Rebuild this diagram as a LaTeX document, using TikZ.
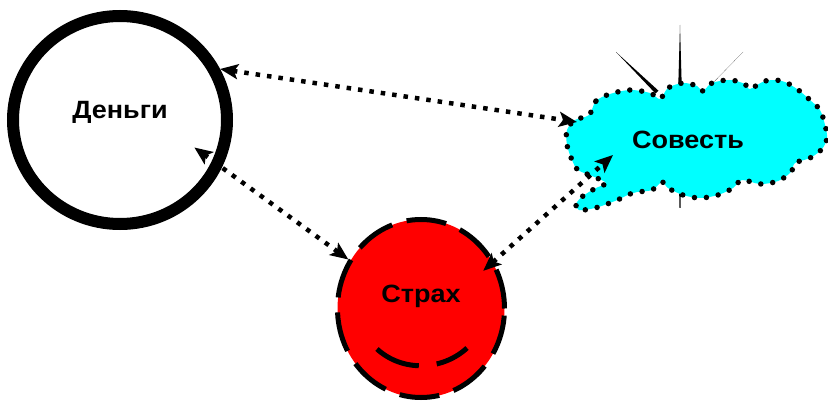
\documentclass[tikz,border=0pt]{standalone}
\usepackage{fontspec}
\setmainfont{Liberation Sans}
\usetikzlibrary{arrows.meta,shapes.geometric}
\definecolor{cloudcyan}{RGB}{0,255,255}
\definecolor{fearred}{RGB}{255,0,0}
\begin{document}
\begin{tikzpicture}[x=1pt,y=-1pt,
  lbl/.style={font=\bfseries\fontsize{25}{28}\selectfont, inner sep=0pt},
  conn/.style={line width=4.5pt, dash pattern=on 4.5pt off 7pt, {Stealth[length=18pt,width=15pt,inset=4pt]}-{Stealth[length=18pt,width=15pt,inset=4pt]}},
  spike/.style={fill=black},
  cloudline/.style={fill=cloudcyan, draw=black, line width=5.5pt, line cap=round, dash pattern=on 0pt off 12pt}
]
\useasboundingbox (0,0) rectangle (828,401);

% Money
\node[ellipse, draw, line width=12pt, minimum width=214pt, minimum height=208pt, inner sep=0pt,
      label={[lbl,yshift=7.5pt]center:\scalebox{1.08}[1]{Деньги}}] (money) at (120,120) {};

% Fear
\node[ellipse, draw, fill=fearred, line width=5pt, dash pattern=on 40pt off 15pt,
      minimum width=167pt, minimum height=178pt, inner sep=0pt,
      label={[lbl,yshift=12pt]center:\scalebox{1.08}[1]{Страх}}] (fear) at (421,308.5) {};
\draw[line width=5pt, dash pattern=on 46pt off 18pt] (377,349) .. controls (402,372) and (442,371) .. (467,348);

% Spikes behind the cloud
\fill[spike] (678,95) -- (680,25) -- (682,95) -- cycle;
\fill[spike] (655.6,93.6) -- (616,52) -- (658.4,90.6) -- cycle;
\fill[spike] (702.6,93.6) -- (743,52) -- (705.4,90.6) -- cycle;
\fill[spike] (679,185) -- (681,185) -- (680.5,208) -- (679.5,208) -- cycle;

% Cloud
\path[cloudline] plot[smooth cycle, tension=0.55] coordinates {
 (589,115) (596,101) (610,94) (630,90) (650,93) (660,99)
 (668,88) (683,83) (697,86) (703,91)
 (712,83) (730,80) (745,84) (750,89)
 (765,81) (782,81) (797,89) (810,100) (820,110) (825,125) (827,138) (822,149) (810,158) (795,163)
 (791,172) (778,181) (760,184) (742,180)
 (733,188) (718,195) (700,198) (683,195) (668,188) (662,182)
 (652,190) (637,192) (630,194) (615,201) (595,208) (579,210) (576,204) (583,196) (596,188) (606,183)
 (592,176) (578,170) (572,160) (567,145) (567,130) (575,120)
};
\node[lbl] (cons) at (688,140) {\scalebox{1.08}[1]{Совесть}};
\coordinate (cL) at (577,122);
\coordinate (cB) at (613,155);

% Connectors
\draw[conn] (money.27) -- (cL);
\draw[conn, shorten >=-34pt] (fear.146) -- (money.-25);
\draw[conn, shorten <=-15pt] (fear.33) -- (cB);
\end{tikzpicture}
\end{document}
